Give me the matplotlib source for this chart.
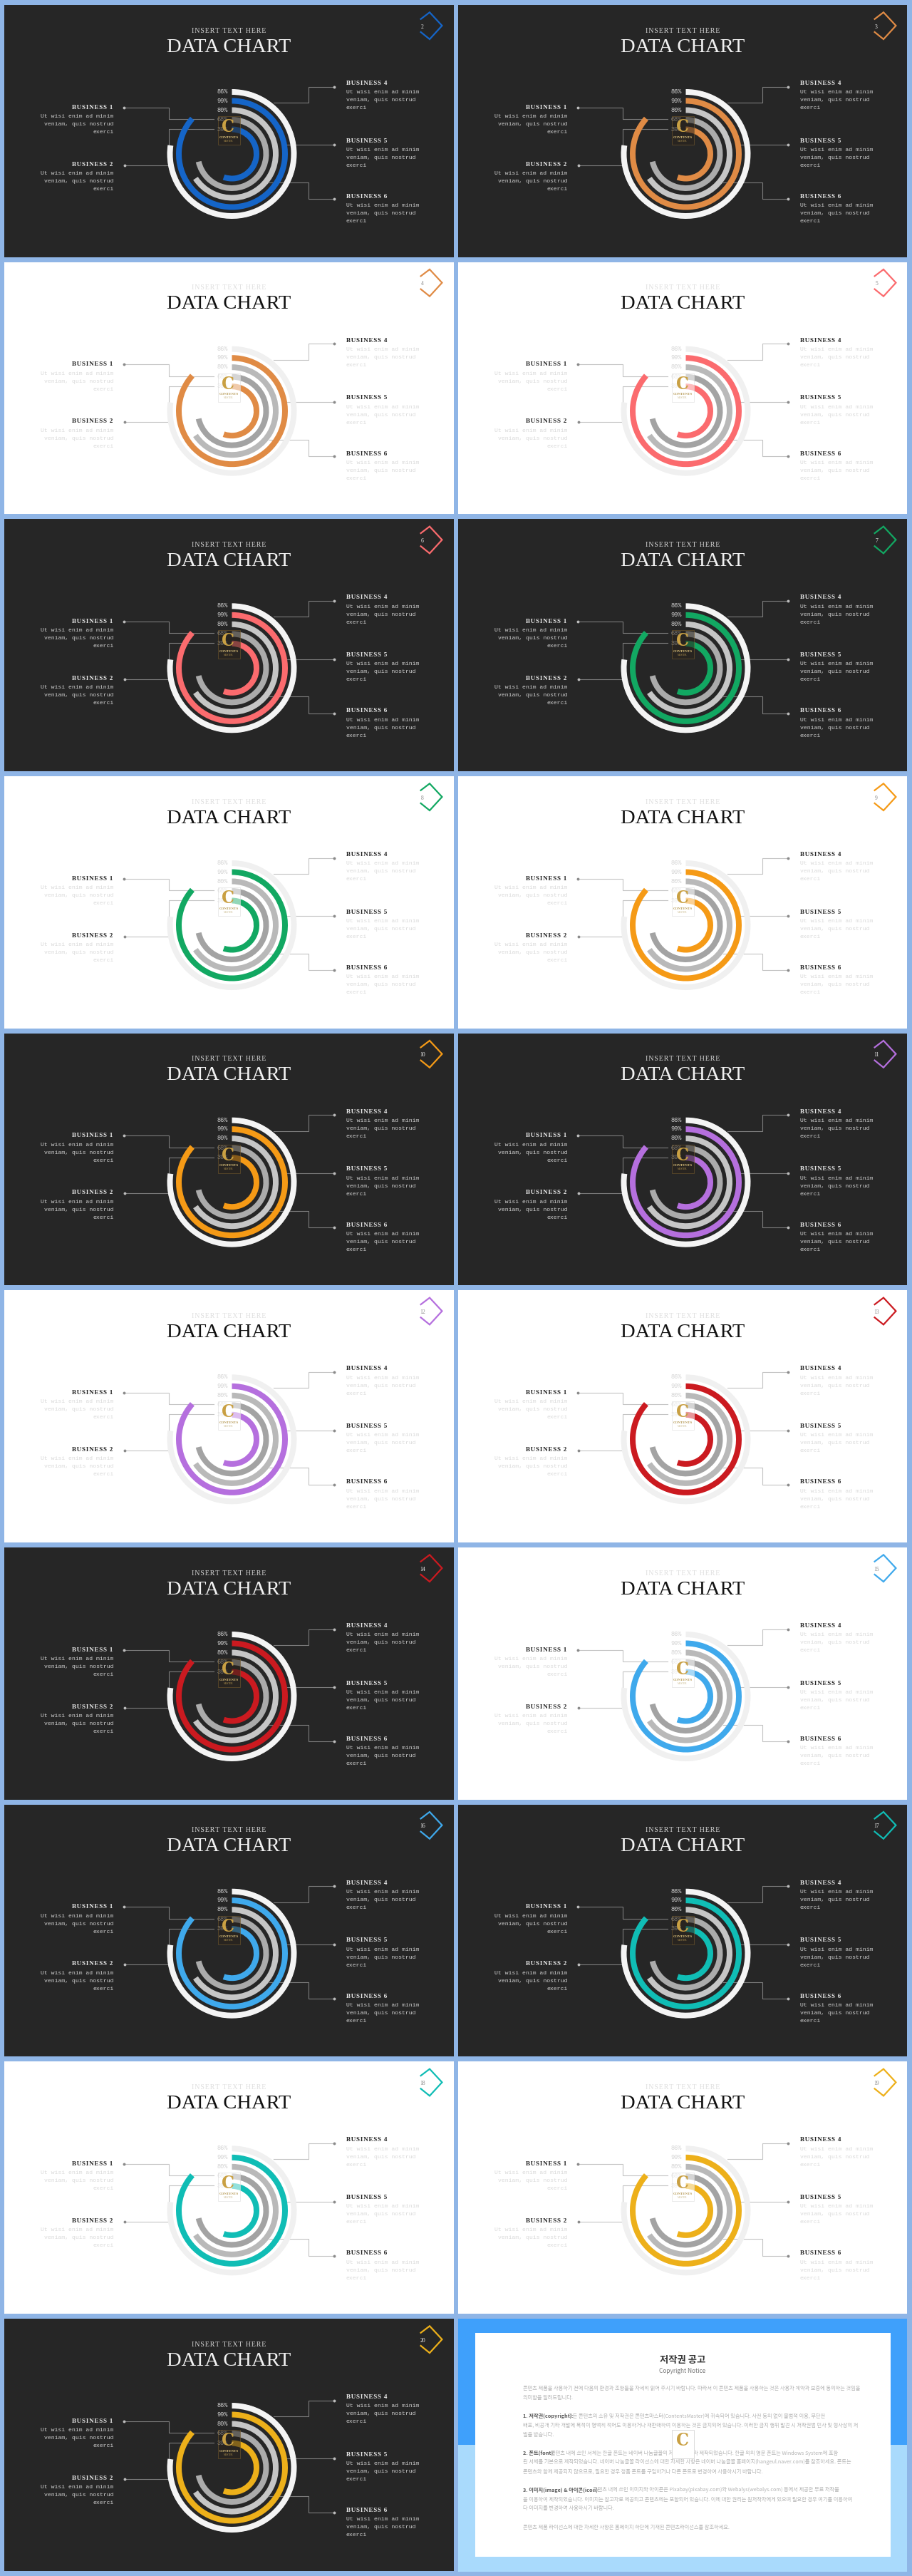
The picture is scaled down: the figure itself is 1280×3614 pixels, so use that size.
import matplotlib
matplotlib.use("Agg")
import numpy as np
import matplotlib.pyplot as plt
from matplotlib.patches import Rectangle

W, H = 1280, 3614

# Slide themes, left to right, top to bottom
panel_modes = [
    "dark", "dark", "light", "light", "dark", "dark", "light", "light", "dark", "dark",
    "light", "light", "dark", "light", "dark", "dark", "light", "light", "dark",
]
panel_accents = [
    "#1565C8", "#E08B45", "#E08B45", "#FB6B6E", "#FB6B6E", "#12A862", "#12A862", "#F59A16", "#F59A16", "#B56FDE",
    "#B56FDE", "#CB1A20", "#CB1A20", "#3FA9EC", "#3FA9EC", "#10BDB5", "#10BDB5", "#EDB01A", "#EDB01A",
]

# Ring values, outermost first
ring_labels = ["86%", "99%", "80%", "68%", "39%"]
ring_sweep_pct = [77.2, 86.6, 65.6, 71.4, 55.4]
ring_radii = [87, 74.5, 61.5, 48, 34.5]

business_left = ["BUSINESS 1", "BUSINESS 2"]
business_right = ["BUSINESS 4", "BUSINESS 5", "BUSINESS 6"]
body_lines = ["Ut wisi enim ad minim", "veniam, quis nostrud", "exerci"]

notice_title = "저작권 공고"
notice_subtitle = "Copyright Notice"
notice_heads = ["1. 저작권(copyright):", "2. 폰트(font):", "3. 이미지(image) & 아이콘(icon):"]
notice_head_rest = [
    "모든 콘텐츠의 소유 및 저작권은 콘텐츠마스터(ContentsMaster)에 귀속되어 있습니다. 사전 동의 없이 불법적 이용, 무단전",
    "콘텐츠 내에 쓰인 서체는 한글 폰트는 네이버 나눔글꼴의 저작권에 따라 제작되었습니다. 한글 외의 영문 폰트는 Windows System에 포함",
    "콘텐츠 내에 쓰인 이미지와 아이콘은 Pixabay(pixabay.com)와 Webalys(webalys.com) 등에서 제공한 무료 저작물",
]
notice_body = [
    "콘텐츠 제품을 사용하기 전에 다음의 환경과 조항들을 자세히 읽어 주시기 바랍니다. 따라서 이 콘텐츠 제품을 사용하는 것은 사용자 계약과 보증에 동의하는 것임을",
    "의미함을 알려드립니다.",
    "배포, 비공개 기타 개발에 목적이 명백히 적어도 이용하거나 재판매하여 이용하는 것은 금지되어 있습니다. 이러한 금지 행위 발견 시 저작권법 민사 및 형사상의 처",
    "벌을 받습니다.",
    "된 서체를 기본으로 제작되었습니다. 네이버 나눔글꼴 라이선스에 대한 자세한 사항은 네이버 나눔글꼴 홈페이지(hangeul.naver.com)를 참조하세요. 폰트는",
    "콘텐츠와 함께 제공되지 않으므로, 필요한 경우 정품 폰트를 구입하거나 다른 폰트로 변경하여 사용하시기 바랍니다.",
    "을 이용하여 제작되었습니다. 이미지는 참고자료 제공되고 콘텐츠에는 포함되어 있습니다. 이에 대한 권리는 원저작자에게 있으며 필요한 경우 여기를 이용하여",
    "다 이미지를 변경하여 사용하시기 바랍니다.",
    "콘텐츠 제품 라이선스에 대한 자세한 사항은 홈페이지 하단에 기재된 콘텐츠라이선스를 참조하세요.",
]

PAGE_BG = "#8FB5E6"
DARK_BG = "#262626"
SERIF = ["Liberation Serif", "DejaVu Serif"]
MONO = "Liberation Mono"
KR = ["Noto Sans CJK KR", "DejaVu Sans"]

col_left = [6, 643]
panel_w = [631, 630]
row_top = 7
row_step = 360.67
panel_h = 353.5
center_dx, center_dy = 319.5, 209

fig = plt.figure(figsize=(W / 100, H / 100), dpi=100, facecolor=PAGE_BG)
base = fig.add_axes([0, 0, 1, 1], zorder=0)
base.set_xlim(0, W)
base.set_ylim(H, 0)
base.axis("off")
over = fig.add_axes([0, 0, 1, 1], zorder=5)
over.set_xlim(0, W)
over.set_ylim(H, 0)
over.axis("off")
over.patch.set_alpha(0)


def spaced(s):
    # Letter spacing for the small caps headings
    return "\u200a".join(s)


def draw_logo(ax, x0, y0, dark):
    logo_bg = "#2A241C" if dark else "#FFFFFF"
    logo_ec = "#7A5F2E" if dark else "#DADADA"
    ax.add_patch(Rectangle((x0 + 300, y0 + 156), 31, 40, fc=logo_bg, ec=logo_ec, lw=0.7, alpha=0.55, zorder=4))
    ax.text(x0 + 314.5, y0 + 171, "C", color="#C9A043", family="DejaVu Serif", stretch="condensed",
            weight="bold", fontsize=18, ha="center", va="center", zorder=5)
    ax.text(x0 + 315, y0 + 185.5, "CONTENTS", color="#E3C77E" if dark else "#B69A55", family=SERIF,
            weight="bold", fontsize=3.6, ha="center", va="center", zorder=5)
    ax.text(x0 + 315, y0 + 190.5, "MASTER", color="#B9994F" if dark else "#C9B98C", family=SERIF,
            fontsize=2.4, ha="center", va="center", zorder=5)


def draw_slide(idx, mode, accent):
    col = idx % 2
    x0 = col_left[col]
    y0 = row_top + (idx // 2) * row_step
    dark = mode == "dark"

    bg = DARK_BG if dark else "white"
    title_c = "#F2F2F2" if dark else "#111111"
    sub_c = "#D6D6D6" if dark else "#DEDEDE"
    head_c = "#E8E8E8" if dark else "#222222"
    body_c = "#CFCFCF" if dark else "#DADADA"
    line_c = "#7C7C7C" if dark else "#C4C4C4"
    dot_c = "#BDBDBD" if dark else "#8A8A8A"
    label_c = "#CFCFCF" if dark else "#D4D4D4"
    ring_colors = (
        ["#F4F4F4", accent, "#C6C6C6", "#ABABAB", accent]
        if dark
        else ["#F0F0F0", accent, "#B9B9B9", "#A3A3A3", accent]
    )

    base.add_patch(Rectangle((x0, y0), panel_w[col], panel_h, fc=bg, ec="none"))

    # Heading
    base.text(x0 + 315, y0 + 36, spaced("INSERT TEXT HERE"), color=sub_c, family=SERIF,
              fontsize=7.2, ha="center", va="center")
    base.text(x0 + 315, y0 + 59, "DATA CHART", color=title_c, family=SERIF,
              fontsize=20.5, ha="center", va="center")

    # Corner chevron with page number
    base.plot([x0 + 584.6, x0 + 597, x0 + 614.4, x0 + 597, x0 + 584.6],
              [y0 + 19.7, y0 + 10.3, y0 + 29, y0 + 48, y0 + 38],
              color=accent, lw=1.6, solid_joinstyle="miter")
    base.text(x0 + 587, y0 + 30.5, str(idx + 2), color=title_c if dark else "#888888",
              family=SERIF, fontsize=5.5, ha="center", va="center")

    # Callouts
    callouts = [
        ([167.5, 230.7, 230.7, 294], [143.7, 143.7, 160, 160]),
        ([168.7, 230.7, 230.7, 294], [224.7, 224.7, 174, 174]),
        ([463.4, 426.7, 426.7, 377.7], [114.7, 114.7, 137, 137]),
        ([463.4, 396], [196.3, 196.3]),
        ([463.4, 426.7, 426.7, 371.5], [272.3, 272.3, 249, 249]),
    ]
    for xs, ys in callouts:
        base.plot([x0 + v for v in xs], [y0 + v for v in ys], color=line_c, lw=0.8)
        base.plot(x0 + xs[0], y0 + ys[0], "o", ms=2.8, color=dot_c, mec="none")

    # Business blocks
    for name, head_y in zip(business_left, [143.7, 223.7]):
        base.text(x0 + 152, y0 + head_y, spaced(name), color=head_c, family=SERIF, weight="bold",
                  fontsize=6.6, ha="right", va="center")
        for j, line in enumerate(body_lines):
            base.text(x0 + 153.5, y0 + head_y + 12.8 + j * 11, line, color=body_c, family=MONO,
                      fontsize=5.9, ha="right", va="center")
    for name, head_y in zip(business_right, [110, 190.7, 269]):
        base.text(x0 + 479.7, y0 + head_y, spaced(name), color=head_c, family=SERIF, weight="bold",
                  fontsize=6.6, ha="left", va="center")
        for j, line in enumerate(body_lines):
            base.text(x0 + 479.7, y0 + head_y + 12.8 + j * 11, line, color=body_c, family=MONO,
                      fontsize=5.9, ha="left", va="center")

    # Rings on a polar axes
    cx, cy = x0 + center_dx, y0 + center_dy
    radius = 91.5
    pol = fig.add_axes(
        [(cx - radius) / W, 1 - (cy + radius) / H, 2 * radius / W, 2 * radius / H],
        projection="polar", zorder=2,
    )
    pol.set_theta_zero_location("N")
    pol.set_theta_direction(-1)
    pol.barh(ring_radii, np.radians(np.array(ring_sweep_pct) * 3.6), height=8, left=0,
             color=ring_colors, edgecolor="none")
    pol.set_ylim(0, radius)
    pol.axis("off")
    pol.patch.set_alpha(0)

    # Value labels and the logo stamp sit above the rings
    for label, r in zip(ring_labels, ring_radii):
        over.text(cx - 6, cy - r - 0.5, label, color=label_c, family=MONO,
                  fontsize=6.2, ha="right", va="center")
    draw_logo(over, x0, y0, dark)


for i, (mode, accent) in enumerate(zip(panel_modes, panel_accents)):
    draw_slide(i, mode, accent)

# Copyright notice slide
nx, ny = col_left[1], row_top + 9 * row_step
base.add_patch(Rectangle((nx, ny), 630, 177, fc="#3FA0FB", ec="none"))
base.add_patch(Rectangle((nx, ny + 177), 630, 178, fc="#A9DAFC", ec="none"))
base.add_patch(Rectangle((666.5, ny + 19.7), 583.5, 314.5, fc="white", ec="none"))

base.text(958, ny + 58, notice_title, family=KR, weight="bold", fontsize=9.6, color="#333333",
          ha="center", va="center")
base.text(958, ny + 73, notice_subtitle, family=KR, fontsize=6.0, color="#777777",
          ha="center", va="center")

text_left = 734
clip = Rectangle((text_left, ny), 1183 - text_left, 354, transform=base.transData)


def notice_text(x, y, s, color="#B4B4B4", weight="normal"):
    t = base.text(x, ny + y, s, family=KR, fontsize=5.2, color=color, weight=weight, va="center")
    t.set_clip_path(clip)


for line, y in zip(notice_body, [97.7, 111, 149.7, 162.7, 201.3, 214.7, 253.7, 266.3, 293]):
    notice_text(text_left, y, line)
for head, rest, y, end_x in zip(notice_heads, notice_head_rest, [136.3, 188.7, 240.3], [797, 772.6, 832]):
    notice_text(text_left, y, head, color="#555555", weight="bold")
    notice_text(end_x, y, rest)

# Logo stamp on the notice slide
base.add_patch(Rectangle((nx + 300, ny + 156), 31, 40, fc="white", ec="#DADADA", lw=0.7, zorder=4))
base.text(nx + 314.5, ny + 171, "C", color="#C9A043", family="DejaVu Serif", stretch="condensed",
          weight="bold", fontsize=18, ha="center", va="center", zorder=5)

fig.savefig("out.png", dpi=100, facecolor=PAGE_BG)
